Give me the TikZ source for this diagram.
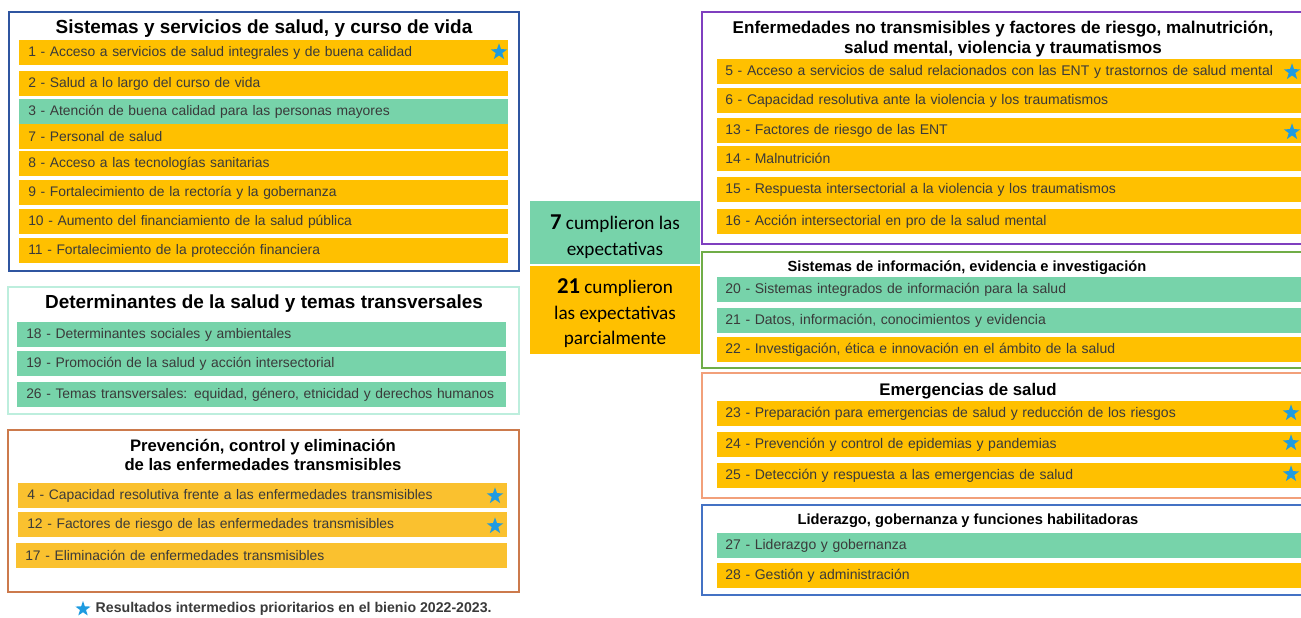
\documentclass[tikz,border=0pt]{standalone}
\usepackage{fontspec}
\setmainfont{Liberation Sans}
\newfontfamily\calibri{Carlito}
\usepackage{tikz}
\usetikzlibrary{shapes.geometric}
\usepackage{xcolor}
\definecolor{ambar}{HTML}{FFC000}
\definecolor{ambarclaro}{HTML}{FAC12F}
\definecolor{verde}{HTML}{77D3AA}
\definecolor{azulestrella}{HTML}{1E9BE0}
\definecolor{gristexto}{HTML}{3A3A3A}
\definecolor{bordeazul}{HTML}{2F55A0}
\definecolor{bordeteal}{HTML}{BDEEDD}
\definecolor{bordemarron}{HTML}{CC7A4C}
\definecolor{bordemorado}{HTML}{7F3FBF}
\definecolor{bordeverde}{HTML}{70AD47}
\definecolor{bordenaranja}{HTML}{F2A07A}
\definecolor{bordeazulclaro}{HTML}{4472C4}
\newcommand{\cifra}[1]{\rule{0pt}{17pt}{\calibri\bfseries\fontsize{17}{19}\selectfont #1}}

\begin{document}
\begin{tikzpicture}[x=0.75pt,y=-0.75pt,
  item/.style={anchor=north west, minimum height=18.75pt, inner xsep=6.75pt, inner ysep=0pt,
    align=left, font=\fontsize{10.4}{12}\selectfont, text=gristexto},
  itemizq/.style={item, text width=353.25pt},
  itemder/.style={item, inner xsep=6pt, text width=432.75pt, font=\fontsize{10.5}{12}\selectfont},
  titulo/.style={font=\bfseries\fontsize{14.2}{16}\selectfont, align=center},
  tituloder/.style={font=\bfseries\fontsize{11}{14}\selectfont, align=center},
  estrella/.style={star, star points=5, star point ratio=2.5, fill=azulestrella, draw=none,
    inner sep=0pt, minimum size=13pt},
  caja/.style={minimum width=127.5pt, inner sep=0pt, align=center,
    font=\calibri\fontsize{14.4}{19.2}\selectfont},
  marco/.style={line width=0.9pt}]
\useasboundingbox (0,0) rectangle (1301,617);
\clip (0,0) rectangle (1301,617);

% Sistemas y servicios de salud
\draw[marco, draw=bordeazul] (9,12) rectangle (519,271);
\node[titulo] (t1) at (264,29) {Sistemas y servicios de salud, y curso de vida};
\node[itemizq, fill=ambar] (r1) at (19,40) {1 - Acceso a servicios de salud integrales y de buena calidad};
\node[itemizq, fill=ambar] (r2) at (19,71) {2 - Salud a lo largo del curso de vida};
\node[itemizq, fill=verde] (r3) at (19,99) {3 - Atención de buena calidad para las personas mayores};
\node[itemizq, fill=ambar] (r7) at (19,124) {7 - Personal de salud};
\node[itemizq, fill=ambar] (r8) at (19,151) {8 - Acceso a las tecnologías sanitarias};
\node[itemizq, fill=ambar] (r9) at (19,180) {9 - Fortalecimiento de la rectoría y la gobernanza};
\node[itemizq, fill=ambar] (r10) at (19,209) {10 - Aumento del financiamiento de la salud pública};
\node[itemizq, fill=ambar] (r11) at (19,238) {11 - Fortalecimiento de la protección financiera};
\node[estrella] (e1) at (499,52) {};

% Determinantes
\draw[marco, draw=bordeteal] (8,287) rectangle (519,414);
\node[titulo] (t2) at (264,304) {Determinantes de la salud y temas transversales};
\node[itemizq, fill=verde] (r18) at (17,322) {18 - Determinantes sociales y ambientales};
\node[itemizq, fill=verde] (r19) at (17,351) {19 - Promoción de la salud y acción intersectorial};
\node[itemizq, fill=verde] (r26) at (17,382) {26 - Temas transversales: equidad, género, etnicidad y derechos humanos};

% Enfermedades transmisibles
\draw[marco, draw=bordemarron] (8,430) rectangle (519,592);
\node[tituloder, font=\bfseries\fontsize{12.5}{14}\selectfont] (t3) at (263,455)
  {Prevención, control y eliminación\\de las enfermedades transmisibles};
\node[itemizq, fill=ambarclaro] (r4) at (18,483) {4 - Capacidad resolutiva frente a las enfermedades transmisibles};
\node[itemizq, fill=ambarclaro] (r12) at (18,512) {12 - Factores de riesgo de las enfermedades transmisibles};
\node[itemizq, fill=ambarclaro, text width=354.75pt] (r17) at (16,543) {17 - Eliminación de enfermedades transmisibles};
\node[estrella] (e4) at (495,496) {};
\node[estrella] (e12) at (495,526) {};

% nota
\node[estrella, minimum size=12pt] (e0) at (83,609) {};
\node[anchor=west, font=\bfseries\fontsize{10.6}{12}\selectfont, text=gristexto] (nota) at (91,609)
  {Resultados intermedios prioritarios en el bienio 2022-2023.};

% resumen central
\node[caja, fill=verde, minimum height=47.25pt] (cumplidas) at (615,232.5)
  {\cifra{7} cumplieron las\\expectativas};
\node[caja, fill=ambar, minimum height=66pt, anchor=north] (parcial) at ([yshift=-0.75pt]cumplidas.south)
  {\cifra{21} cumplieron\\las expectativas\\parcialmente};

% ENT
\draw[marco, draw=bordemorado] (702,12) rectangle (1312,244);
\node[tituloder, font=\bfseries\fontsize{12.8}{14.5}\selectfont] (t5) at (1003,39)
  {Enfermedades no transmisibles y factores de riesgo, malnutrición,\\salud mental, violencia y traumatismos};
\node[itemder, fill=ambar] (r5) at (717,59) {5 - Acceso a servicios de salud relacionados con las ENT y trastornos de salud mental};
\node[itemder, fill=ambar] (r6) at (717,88) {6 - Capacidad resolutiva ante la violencia y los traumatismos};
\node[itemder, fill=ambar] (r13) at (717,118) {13 - Factores de riesgo de las ENT};
\node[itemder, fill=ambar] (r14) at (717,146) {14 - Malnutrición};
\node[itemder, fill=ambar] (r15) at (717,177) {15 - Respuesta intersectorial a la violencia y los traumatismos};
\node[itemder, fill=ambar] (r16) at (717,209) {16 - Acción intersectorial en pro de la salud mental};
\node[estrella] (e5) at (1292,72) {};
\node[estrella] (e13) at (1292,132) {};

% Sistemas de informacion
\draw[marco, draw=bordeverde] (702,252) rectangle (1312,368);
\node[tituloder] (t20) at (967,268) {Sistemas de información, evidencia e investigación};
\node[itemder, fill=verde] (r20) at (717,277) {20 - Sistemas integrados de información para la salud};
\node[itemder, fill=verde] (r21) at (717,308) {21 - Datos, información, conocimientos y evidencia};
\node[itemder, fill=ambar] (r22) at (717,337) {22 - Investigación, ética e innovación en el ámbito de la salud};

% Emergencias
\draw[marco, draw=bordenaranja] (702,373) rectangle (1312,498);
\node[titulo, font=\bfseries\fontsize{12.6}{14}\selectfont] (t23) at (968,391) {Emergencias de salud};
\node[itemder, fill=ambar] (r23) at (717,401) {23 - Preparación para emergencias de salud y reducción de los riesgos};
\node[itemder, fill=ambar] (r24) at (717,432) {24 - Prevención y control de epidemias y pandemias};
\node[itemder, fill=ambar] (r25) at (717,463) {25 - Detección y respuesta a las emergencias de salud};
\node[estrella] (e23) at (1291,413) {};
\node[estrella] (e24) at (1291,443) {};
\node[estrella] (e25) at (1291,474) {};

% Liderazgo
\draw[marco, draw=bordeazulclaro] (702,505) rectangle (1312,595);
\node[tituloder] (t27) at (968,521) {Liderazgo, gobernanza y funciones habilitadoras};
\node[itemder, fill=verde] (r27) at (717,533) {27 - Liderazgo y gobernanza};
\node[itemder, fill=ambar] (r28) at (717,563) {28 - Gestión y administración};
\end{tikzpicture}
\end{document}
